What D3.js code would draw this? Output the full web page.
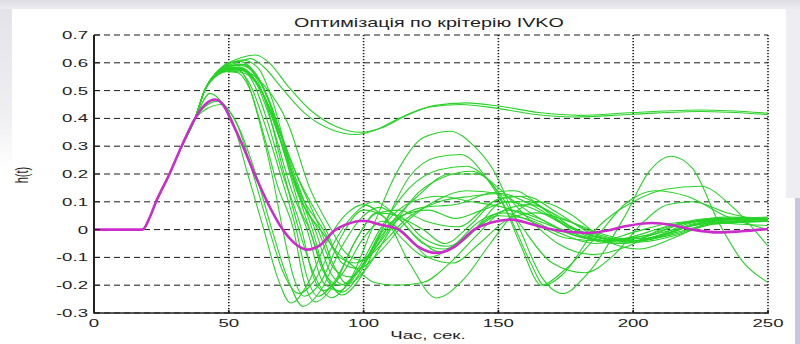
<!DOCTYPE html>
<html>
<head>
<meta charset="utf-8">
<script src="https://cdn.jsdelivr.net/npm/d3@7"></script>
<style>
  html, body { margin: 0; padding: 0; background: #ffffff; }
  svg { display: block; }
  text { font-family: "Liberation Sans", Arial, sans-serif; fill: #1e1e1e; }
</style>
</head>
<body>
<svg id="chart" width="800" height="344"></svg>
<script>
// ---- axes / labels ----
const chartTitle = "Оптимізація по крітерію IVKO";
const xLabel = "Час, сек.";
const yLabel = "h(t)";
const xTicks = [0, 50, 100, 150, 200, 250];
const yTicks = [-0.3, -0.2, -0.1, 0, 0.1, 0.2, 0.3, 0.4, 0.5, 0.6, 0.7];
const yTickLabels = ["-0.3", "-0.2", "-0.1", "0", "0.1", "0.2", "0.3", "0.4", "0.5", "0.6", "0.7"];

// ---- responses h(t): [time, value] ----
// shared dead time and initial rise
const rise = [[0, 0], [5, 0], [10, 0], [15, 0], [18, 0], [20.5, 0.04], [23, 0.1], [28, 0.2], [32.5, 0.3], [37.5, 0.4]];

// optimal response (IVKO criterion)
const optimal = [[0, 0], [5, 0], [10, 0], [15, 0], [18, 0], [20.5, 0.04], [23, 0.1], [28, 0.2], [32.5, 0.3], [37.5, 0.4],
  [41, 0.448], [45, 0.468], [48, 0.447], [51, 0.39], [55, 0.305], [60, 0.19], [65, 0.085], [70, 0], [74.5, -0.05], [79, -0.072],
  [84, -0.055], [89, -0.005], [94, 0.02], [100, 0.032], [106, 0.018], [113, 0], [120, -0.06], [127, -0.084], [134, -0.06],
  [141, 0], [147, 0.025], [155, 0.036], [162, 0.02], [169, 0.002], [176, -0.008], [183, -0.012], [190, -0.004],
  [197, 0.012], [207, 0.024], [215, 0.015], [222, 0], [232, -0.01], [240, -0.006], [250, 0.002]];

// candidate responses checked during the search
const steadyA = [[41, 0.5], [45, 0.555], [50, 0.59], [55, 0.608], [58, 0.615], [63, 0.585], [70, 0.505], [78, 0.42], [88, 0.36], [97, 0.342], [105, 0.36], [113, 0.4], [124, 0.44], [136, 0.45], [149, 0.437], [163, 0.415], [178, 0.405], [200, 0.415], [225, 0.425], [250, 0.414]];
const steadyB = [[41, 0.5], [45, 0.56], [50, 0.6], [55, 0.62], [60, 0.628], [65, 0.6], [72, 0.515], [80, 0.432], [90, 0.37], [99, 0.35], [107, 0.367], [115, 0.406], [126, 0.446], [138, 0.456], [151, 0.443], [165, 0.421], [180, 0.411], [200, 0.421], [225, 0.43], [250, 0.419]];

const low1 = [[43, 0.49], [48, 0.45], [51, 0.4], [57, 0.2], [63, 0], [68, -0.17], [73, -0.264], [79, -0.2], [86, -0.05], [94, 0.06], [100, 0.09], [107, 0.05], [115, -0.04], [124, -0.1], [133, -0.06], [143, 0.03], [152, 0.06], [162, 0.03], [175, -0.03], [188, -0.04], [200, -0.01], [212, 0.02], [225, 0.03], [238, 0.02], [250, 0.015]];
const low2 = [[46, 0.462], [50, 0.43], [53, 0.38], [59, 0.2], [65, 0], [70, -0.15], [76, -0.23], [82, -0.18], [90, -0.03], [98, 0.07], [104, 0.1], [111, 0.06], [120, -0.03], [128, -0.08], [137, -0.04], [146, 0.04], [154, 0.07], [165, 0.04], [178, -0.02], [192, -0.04], [205, -0.02], [218, 0.02], [232, 0.035], [250, 0.03]];
const low3 = [[47, 0.45], [52, 0.4], [60, 0.2], [66, 0], [72, -0.18], [77.5, -0.276], [84, -0.22], [92, -0.06], [100, 0.05], [106, 0.08], [113, 0.04], [122, -0.05], [130, -0.07], [140, -0.01], [150, 0.05], [160, 0.04], [172, -0.01], [186, -0.05], [198, -0.03], [212, 0.01], [228, 0.04], [250, 0.04]];

const main1 = [[41, 0.5], [45, 0.555], [50, 0.585], [55, 0.595], [60, 0.55], [64, 0.45], [70, 0.22], [76, 0], [82, -0.17], [88, -0.245], [95, -0.18], [103, 0], [112, 0.2], [122, 0.33], [132, 0.354], [141, 0.3], [148, 0.216], [158, 0], [166, -0.17], [174, -0.23], [182, -0.17], [197, 0.05], [206, 0.21], [214, 0.264], [222, 0.22], [232, 0.02], [241, -0.12], [250, -0.19]];
const main2 = [[41, 0.5], [45, 0.56], [50, 0.595], [55, 0.61], [61, 0.58], [66, 0.47], [73, 0.22], [80, 0], [86, -0.16], [92, -0.235], [99, -0.17], [107, 0], [117, 0.19], [127, 0.26], [136, 0.27], [146, 0.18], [155, 0.03], [162, -0.12], [167, -0.2], [174, -0.16], [186, 0], [200, 0.1], [212, 0.145], [225, 0.156], [237, 0.08], [250, -0.06]];
const main3 = [[41, 0.5], [45, 0.555], [50, 0.58], [54, 0.585], [60, 0.53], [66, 0.38], [73, 0.15], [79, 0], [85, -0.19], [91, -0.22], [98, -0.14], [106, 0], [117, 0.15], [128, 0.215], [138, 0.228], [148, 0.16], [158, 0.02], [170, -0.12], [182, -0.155], [193, -0.09], [203, 0.02], [213, 0.09], [222, 0.1], [235, 0.06], [250, 0.03]];
const main4 = [[41, 0.5], [45, 0.56], [49, 0.58], [52, 0.585], [57, 0.53], [61, 0.4], [66, 0.2], [70, 0], [74, -0.17], [78, -0.24], [84, -0.19], [92, -0.02], [100, 0.07], [107, 0.05], [117, -0.12], [127, -0.246], [137, -0.18], [147, -0.05], [156, 0.06], [165, 0.1], [176, 0.06], [190, -0.04], [202, -0.07], [215, -0.03], [230, 0.03], [250, 0.045]];
const main5 = [[41, 0.5], [45, 0.555], [50, 0.572], [54, 0.575], [60, 0.53], [67, 0.4], [75, 0.2], [84, 0], [89, -0.13], [94, -0.195], [101, -0.14], [110, 0], [120, 0.13], [130, 0.19], [140, 0.21], [150, 0.15], [160, 0.05], [172, -0.05], [185, -0.09], [198, -0.06], [210, 0], [222, 0.03], [235, 0.04], [250, 0.035]];
const main6 = [[41, 0.5], [45, 0.56], [50, 0.58], [55, 0.575], [61, 0.52], [68, 0.37], [76, 0.18], [86, 0], [92, -0.12], [98, -0.14], [106, -0.08], [115, 0.02], [126, 0.1], [138, 0.14], [150, 0.13], [162, 0.06], [175, -0.01], [190, -0.04], [203, -0.03], [218, 0.02], [234, 0.045], [250, 0.04]];
const main7 = [[41, 0.5], [45, 0.56], [50, 0.59], [55, 0.59], [61, 0.54], [68, 0.38], [75, 0.18], [82, 0], [88, -0.16], [93, -0.2], [100, -0.12], [108, 0.02], [118, 0.1], [128, 0.12], [140, 0.1], [152, 0.08], [165, 0.03], [180, -0.02], [195, -0.05], [208, -0.03], [222, 0.02], [236, 0.04], [250, 0.035]];
const main8 = [[41, 0.5], [45, 0.555], [50, 0.575], [56, 0.57], [63, 0.52], [72, 0.38], [80, 0.15], [88, 0], [93, -0.08], [99, -0.11], [106, -0.06], [116, 0.04], [128, 0.1], [140, 0.12], [151, 0.13], [162, 0.09], [176, 0.01], [192, -0.035], [206, -0.02], [220, 0.01], [235, 0.03], [250, 0.03]];
const main9 = [[41, 0.5], [45, 0.55], [49, 0.568], [53, 0.565], [58, 0.5], [63, 0.34], [68, 0.16], [74, 0], [78, -0.19], [82, -0.26], [89, -0.2], [97, -0.04], [105, 0.06], [113, 0.07], [123, 0.03], [135, 0.01], [148, 0.1], [157, 0.12], [168, 0.07], [182, -0.02], [196, -0.045], [210, -0.02], [225, 0.02], [240, 0.03], [250, 0.03]];
const main10 = [[41, 0.5], [45, 0.56], [50, 0.6], [54, 0.605], [60, 0.56], [66, 0.44], [73, 0.22], [81, 0], [87, -0.19], [92, -0.225], [99, -0.15], [106, -0.02], [113, 0.04], [122, 0], [130, -0.05], [140, 0.02], [150, 0.11], [160, 0.12], [172, 0.06], [186, -0.02], [200, -0.04], [214, -0.01], [228, 0.03], [250, 0.04]];
const main11 = [[41, 0.5], [45, 0.55], [50, 0.57], [55, 0.565], [62, 0.5], [70, 0.3], [78, 0.08], [84, 0], [90, -0.08], [96, -0.13], [104, -0.19], [112, -0.2], [122, -0.19], [132, -0.12], [142, -0.02], [152, 0.07], [162, 0.09], [174, 0.04], [188, -0.02], [200, -0.04], [214, -0.02], [230, 0.02], [250, 0.03]];
const main12 = [[41, 0.5], [45, 0.56], [50, 0.58], [55, 0.58], [61, 0.52], [68, 0.35], [76, 0.12], [83, 0], [89, -0.14], [95, -0.17], [102, -0.1], [110, 0.02], [120, 0.12], [132, 0.2], [142, 0.2], [150, 0.13], [158, -0.05], [166, -0.2], [174, -0.15], [186, -0.03], [198, 0.1], [208, 0.14], [220, 0.12], [234, 0.05], [250, 0]];
const main13 = [[41, 0.5], [45, 0.55], [50, 0.575], [55, 0.575], [62, 0.5], [69, 0.33], [77, 0.12], [85, 0], [91, -0.1], [97, -0.12], [104, -0.07], [112, 0.03], [122, 0.08], [134, 0.09], [146, 0.13], [156, 0.14], [166, 0.08], [180, -0.02], [194, -0.05], [207, -0.03], [220, 0.02], [236, 0.04], [250, 0.035]];
const main14 = [[41, 0.5], [45, 0.555], [50, 0.58], [54, 0.582], [59, 0.53], [64, 0.4], [70, 0.2], [77, 0], [81, -0.16], [85, -0.22], [92, -0.16], [100, -0.03], [107, 0.03], [115, -0.01], [124, -0.1], [133, -0.12], [143, -0.05], [154, 0.04], [164, 0.06], [176, 0.03], [190, -0.02], [203, -0.04], [216, -0.01], [232, 0.025], [250, 0.03]];
const main15 = [[41, 0.5], [45, 0.56], [50, 0.59], [55, 0.595], [60, 0.56], [65, 0.46], [71, 0.26], [77, 0.06], [80, 0], [85, -0.15], [91, -0.2], [98, -0.15], [106, -0.03], [114, 0.05], [124, 0.07], [134, 0.04], [144, 0.07], [154, 0.1], [164, 0.07], [178, 0], [192, -0.035], [206, -0.03], [220, 0.01], [236, 0.04], [250, 0.04]];
const main16 = [[41, 0.5], [45, 0.555], [50, 0.575], [53, 0.575], [58, 0.52], [64, 0.36], [70, 0.17], [75, 0], [79, -0.17], [83, -0.24], [89, -0.19], [97, -0.04], [105, 0.06], [113, 0.05], [122, -0.03], [131, -0.06], [141, 0], [152, 0.1], [161, 0.1], [173, 0.03], [188, -0.03], [202, -0.045], [216, -0.02], [230, 0.02], [250, 0.03]];

const candidates = [steadyA, steadyB, low1, low2, low3, main1, main2, main3, main4, main5, main6, main7, main8,
  main9, main10, main11, main12, main13, main14, main15, main16].map(tail => rise.concat(tail));

// ---- layout ----
const svg = d3.select("#chart");
const W = 800, H = 344;
const plot = { left: 94, right: 768, top: 35, bottom: 313 };
const sx = 1.62; // horizontal stretch of the lettering

const x = d3.scaleLinear().domain([0, 250]).range([plot.left, plot.right]);
const y = d3.scaleLinear().domain([-0.3, 0.7]).range([plot.bottom, plot.top]);

// page backdrop
const defs = svg.append("defs");
const gTop = defs.append("linearGradient").attr("id", "topBand").attr("x1", 0).attr("y1", 0).attr("x2", 0).attr("y2", 1);
gTop.append("stop").attr("offset", 0).attr("stop-color", "#dcdce2");
gTop.append("stop").attr("offset", 1).attr("stop-color", "#ececf0");
const gLeft = defs.append("linearGradient").attr("id", "leftBand").attr("x1", 0).attr("y1", 0).attr("x2", 0).attr("y2", 1);
gLeft.append("stop").attr("offset", 0).attr("stop-color", "#e2e2e8");
gLeft.append("stop").attr("offset", 0.7).attr("stop-color", "#f0f0f3");
gLeft.append("stop").attr("offset", 1).attr("stop-color", "#ffffff");

svg.append("rect").attr("width", W).attr("height", H).attr("fill", "#ffffff");
svg.append("rect").attr("x", 0).attr("y", 0).attr("width", 12).attr("height", 170).attr("fill", "url(#leftBand)");
svg.append("rect").attr("x", 786).attr("y", 0).attr("width", 14).attr("height", 198).attr("fill", "#eeeef2");
svg.append("rect").attr("x", 795).attr("y", 198).attr("width", 5).attr("height", 146).attr("fill", "#c9c5da");
svg.append("rect").attr("x", 0).attr("y", 0).attr("width", W).attr("height", 9).attr("fill", "url(#topBand)");

// grid
const grid = svg.append("g");
grid.selectAll("line.h").data(yTicks).join("line")
  .attr("x1", plot.left).attr("x2", plot.right)
  .attr("y1", d => y(d)).attr("y2", d => y(d))
  .attr("stroke", "#1a1a1a").attr("stroke-width", 1)
  .attr("stroke-dasharray", "6,4");
grid.selectAll("line.v").data(xTicks.slice(1)).join("line")
  .attr("x1", d => x(d)).attr("x2", d => x(d))
  .attr("y1", plot.top).attr("y2", plot.bottom)
  .attr("stroke", "#1a1a1a").attr("stroke-width", 1.6)
  .attr("stroke-dasharray", "1.2,1.8");

// curves
const line = d3.line()
  .x(d => x(d[0]))
  .y(d => y(d[1]))
  .curve(d3.curveMonotoneX);

const curves = svg.append("g");
curves.selectAll("path.cand").data(candidates).join("path")
  .attr("d", line)
  .attr("fill", "none")
  .attr("stroke", "#27d327")
  .attr("stroke-width", 1.1);

curves.append("path")
  .datum(optimal)
  .attr("d", line)
  .attr("fill", "none")
  .attr("stroke", "#cc2ccc")
  .attr("stroke-width", 2.6);

// axes (left and bottom only)
const xAxis = d3.axisBottom(x).tickValues(xTicks).tickSize(0).tickFormat(d3.format("d"));
const yAxis = d3.axisLeft(y).tickValues(yTicks).tickSize(0).tickFormat((d, i) => yTickLabels[i]);

const gx = svg.append("g").attr("transform", `translate(0,${plot.bottom})`).call(xAxis);
gx.select(".domain").remove();
gx.selectAll("text").remove();
const gy = svg.append("g").attr("transform", `translate(${plot.left},0)`).call(yAxis);
gy.select(".domain").remove();
gy.selectAll("text").remove();

// inward ticks
svg.append("g").selectAll("line").data(yTicks).join("line")
  .attr("x1", plot.left).attr("x2", plot.left + 6)
  .attr("y1", d => y(d)).attr("y2", d => y(d))
  .attr("stroke", "#1a1a1a").attr("stroke-width", 1);
svg.append("g").selectAll("line").data(xTicks).join("line")
  .attr("x1", d => x(d)).attr("x2", d => x(d))
  .attr("y1", plot.bottom).attr("y2", plot.bottom - 3)
  .attr("stroke", "#1a1a1a").attr("stroke-width", 1.6);

svg.append("line").attr("x1", plot.left).attr("x2", plot.left)
  .attr("y1", plot.top).attr("y2", plot.bottom + 0.5)
  .attr("stroke", "#222").attr("stroke-width", 2);
svg.append("line").attr("x1", plot.left).attr("x2", plot.right + 1)
  .attr("y1", plot.bottom).attr("y2", plot.bottom)
  .attr("stroke", "#222").attr("stroke-width", 1.6);

// tick labels (stretched lettering)
svg.append("g").selectAll("text").data(yTicks).join("text")
  .attr("transform", d => `translate(88,${y(d) + 4}) scale(${sx},1)`)
  .attr("text-anchor", "end")
  .attr("font-size", 11.5)
  .text((d, i) => yTickLabels[i]);

svg.append("g").selectAll("text").data(xTicks).join("text")
  .attr("transform", d => `translate(${x(d)},327) scale(${sx},1)`)
  .attr("text-anchor", "middle")
  .attr("font-size", 11.5)
  .text(d => d3.format("d")(d));

svg.append("text")
  .attr("transform", `translate(429,27) scale(${sx},1)`)
  .attr("text-anchor", "middle")
  .attr("font-size", 12.2)
  .text(chartTitle);

svg.append("text")
  .attr("transform", `translate(428,339) scale(${sx},1)`)
  .attr("text-anchor", "middle")
  .attr("font-size", 11.5)
  .text(xLabel);

svg.append("text")
  .attr("transform", `translate(28,175) scale(${sx},1) rotate(-90)`)
  .attr("text-anchor", "middle")
  .attr("font-size", 11)
  .text(yLabel);
</script>
</body>
</html>
